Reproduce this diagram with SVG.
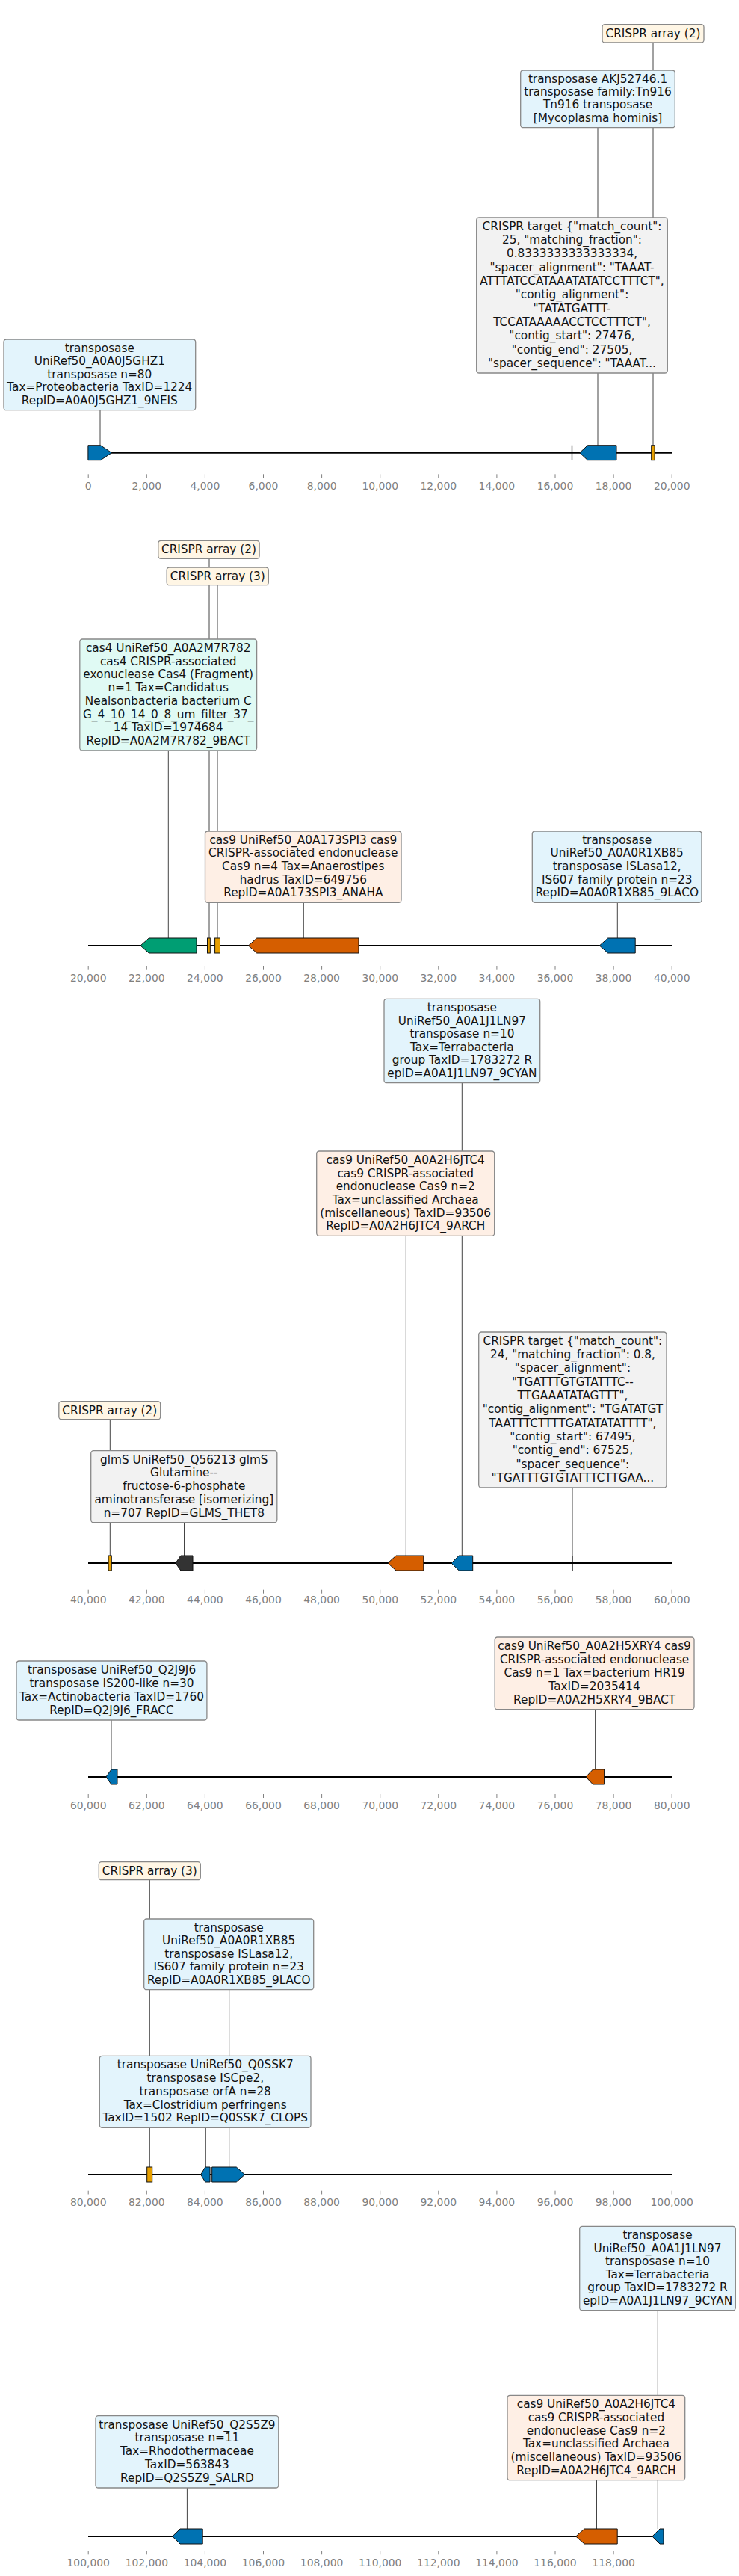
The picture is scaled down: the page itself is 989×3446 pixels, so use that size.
<svg xmlns="http://www.w3.org/2000/svg" width="989" height="3446" viewBox="0 0 989 3446">
<style>
.bg{fill:#fff}
.t{font-family:"DejaVu Sans","Liberation Sans",sans-serif;font-size:15.3px;fill:#111;text-anchor:middle}
.tk{font-family:"DejaVu Sans","Liberation Sans",sans-serif;font-size:13.9px;fill:#808080;text-anchor:middle}
.box{stroke:#888;stroke-width:1.3}
.cr{fill:#FFF6E5}.tr{fill:#E3F4FC}.gy{fill:#F2F2F2}.mi{fill:#E0FAF4}.pe{fill:#FEEFE5}
.con{stroke:#444;stroke-width:1;fill:none}
.axis{stroke:#000;stroke-width:2;fill:none}
.ticks{stroke:#808080;stroke-width:1;fill:none}
.g{stroke:#111;stroke-width:1}
.gb{fill:#0072B2}.go{fill:#D55E00}.gg{fill:#009E73}.gc{fill:#E69F00}.gd{fill:#333333}
.mk{stroke:#000;stroke-width:1.3}
</style>
<rect class="bg" x="0" y="0" width="989" height="3446"/>

<g id="connectors">
<path class="con" d="M134,548.7V595.7M765.5,499V595.7M800,170.7V595.7M874,57V595.7"/>
<path class="con" d="M280,747.3V1255M291,782.7V1255M225.3,1004V1255M406.3,1207.3V1255M826.3,1207.3V1255"/>
<path class="con" d="M618.3,1448.7V2081M543.3,1653.3V2081M766,1990V2081M147.3,1898.7V2081M246.5,2036.7V2081"/>
<path class="con" d="M149,2301V2367M796.6,2286.7V2367"/>
<path class="con" d="M200.3,2514.7V2899M306.7,2661.7V2899M275.3,2846.3V2899"/>
<path class="con" d="M880.3,3090.7V3383M798.5,3317.7V3383M250.4,3328V3383"/>
</g>

<g id="axes">
<path class="axis" d="M118,605.7H899.5"/>
<path class="ticks" d="M118.2,634.3v4.7M196.3,634.3v4.7M274.4,634.3v4.7M352.5,634.3v4.7M430.6,634.3v4.7M508.7,634.3v4.7M586.8,634.3v4.7M664.9,634.3v4.7M743,634.3v4.7M821.1,634.3v4.7M899.2,634.3v4.7"/>
<g>
<text class="tk" x="118.2" y="655">0</text><text class="tk" x="196.3" y="655">2,000</text><text class="tk" x="274.4" y="655">4,000</text><text class="tk" x="352.5" y="655">6,000</text><text class="tk" x="430.6" y="655">8,000</text><text class="tk" x="508.7" y="655">10,000</text><text class="tk" x="586.8" y="655">12,000</text><text class="tk" x="664.9" y="655">14,000</text><text class="tk" x="743" y="655">16,000</text><text class="tk" x="821.1" y="655">18,000</text><text class="tk" x="899.2" y="655">20,000</text>
</g>
<path class="axis" d="M118,1265H899.5"/>
<path class="ticks" d="M118.2,1292v4.7M196.3,1292v4.7M274.4,1292v4.7M352.5,1292v4.7M430.6,1292v4.7M508.7,1292v4.7M586.8,1292v4.7M664.9,1292v4.7M743,1292v4.7M821.1,1292v4.7M899.2,1292v4.7"/>
<g>
<text class="tk" x="118.2" y="1313.3">20,000</text><text class="tk" x="196.3" y="1313.3">22,000</text><text class="tk" x="274.4" y="1313.3">24,000</text><text class="tk" x="352.5" y="1313.3">26,000</text><text class="tk" x="430.6" y="1313.3">28,000</text><text class="tk" x="508.7" y="1313.3">30,000</text><text class="tk" x="586.8" y="1313.3">32,000</text><text class="tk" x="664.9" y="1313.3">34,000</text><text class="tk" x="743" y="1313.3">36,000</text><text class="tk" x="821.1" y="1313.3">38,000</text><text class="tk" x="899.2" y="1313.3">40,000</text>
</g>
<path class="axis" d="M118,2091H899.5"/>
<path class="ticks" d="M118.2,2126.7v5M196.3,2126.7v5M274.4,2126.7v5M352.5,2126.7v5M430.6,2126.7v5M508.7,2126.7v5M586.8,2126.7v5M664.9,2126.7v5M743,2126.7v5M821.1,2126.7v5M899.2,2126.7v5"/>
<g>
<text class="tk" x="118.2" y="2145">40,000</text><text class="tk" x="196.3" y="2145">42,000</text><text class="tk" x="274.4" y="2145">44,000</text><text class="tk" x="352.5" y="2145">46,000</text><text class="tk" x="430.6" y="2145">48,000</text><text class="tk" x="508.7" y="2145">50,000</text><text class="tk" x="586.8" y="2145">52,000</text><text class="tk" x="664.9" y="2145">54,000</text><text class="tk" x="743" y="2145">56,000</text><text class="tk" x="821.1" y="2145">58,000</text><text class="tk" x="899.2" y="2145">60,000</text>
</g>
<path class="axis" d="M118,2377H899.5"/>
<path class="ticks" d="M118.2,2400v5M196.3,2400v5M274.4,2400v5M352.5,2400v5M430.6,2400v5M508.7,2400v5M586.8,2400v5M664.9,2400v5M743,2400v5M821.1,2400v5M899.2,2400v5"/>
<g>
<text class="tk" x="118.2" y="2420">60,000</text><text class="tk" x="196.3" y="2420">62,000</text><text class="tk" x="274.4" y="2420">64,000</text><text class="tk" x="352.5" y="2420">66,000</text><text class="tk" x="430.6" y="2420">68,000</text><text class="tk" x="508.7" y="2420">70,000</text><text class="tk" x="586.8" y="2420">72,000</text><text class="tk" x="664.9" y="2420">74,000</text><text class="tk" x="743" y="2420">76,000</text><text class="tk" x="821.1" y="2420">78,000</text><text class="tk" x="899.2" y="2420">80,000</text>
</g>
<path class="axis" d="M118,2909H899.5"/>
<path class="ticks" d="M118.2,2930.7v4.8M196.3,2930.7v4.8M274.4,2930.7v4.8M352.5,2930.7v4.8M430.6,2930.7v4.8M508.7,2930.7v4.8M586.8,2930.7v4.8M664.9,2930.7v4.8M743,2930.7v4.8M821.1,2930.7v4.8M899.2,2930.7v4.8"/>
<g>
<text class="tk" x="118.2" y="2951">80,000</text><text class="tk" x="196.3" y="2951">82,000</text><text class="tk" x="274.4" y="2951">84,000</text><text class="tk" x="352.5" y="2951">86,000</text><text class="tk" x="430.6" y="2951">88,000</text><text class="tk" x="508.7" y="2951">90,000</text><text class="tk" x="586.8" y="2951">92,000</text><text class="tk" x="664.9" y="2951">94,000</text><text class="tk" x="743" y="2951">96,000</text><text class="tk" x="821.1" y="2951">98,000</text><text class="tk" x="899.2" y="2951">100,000</text>
</g>
<path class="axis" d="M118,3393H888"/>
<path class="ticks" d="M118.2,3412.7v4.6M196.3,3412.7v4.6M274.4,3412.7v4.6M352.5,3412.7v4.6M430.6,3412.7v4.6M508.7,3412.7v4.6M586.8,3412.7v4.6M664.9,3412.7v4.6M743,3412.7v4.6M821.1,3412.7v4.6"/>
<g>
<text class="tk" x="118.2" y="3433.3">100,000</text><text class="tk" x="196.3" y="3433.3">102,000</text><text class="tk" x="274.4" y="3433.3">104,000</text><text class="tk" x="352.5" y="3433.3">106,000</text><text class="tk" x="430.6" y="3433.3">108,000</text><text class="tk" x="508.7" y="3433.3">110,000</text><text class="tk" x="586.8" y="3433.3">112,000</text><text class="tk" x="664.9" y="3433.3">114,000</text><text class="tk" x="743" y="3433.3">116,000</text><text class="tk" x="821.1" y="3433.3">118,000</text>
</g>
</g>

<g id="features">
<path id="f1" class="g gb" d="M117.9,595.7H134.5L149.5,605.7L134.5,615.7H117.9Z"/>
<path id="f2" class="mk" d="M765.5,595.7V615.7"/>
<path id="f3" class="g gb" d="M775.8,605.7L786.5,595.7H825V615.7H786.5Z"/>
<rect id="f4" class="g gc" x="871.7" y="595.7" width="4.4" height="20"/>

<path id="f5" class="g gg" d="M188,1265L199.3,1255H263V1275H199.3Z"/>
<rect id="f6" class="g gc" x="277.5" y="1255" width="3.8" height="20"/>
<rect id="f7" class="g gc" x="287.6" y="1255" width="6.9" height="20"/>
<path id="f8" class="g go" d="M332.4,1265L343.7,1255H480V1275H343.7Z"/>
<path id="f9" class="g gb" d="M802.3,1265L813.6,1255H850.2V1275H813.6Z"/>

<rect id="f10" class="g gc" x="145.1" y="2081" width="4.2" height="20"/>
<path id="f11" class="g gd" d="M235,2091L241.9,2081H258V2101H241.9Z"/>
<path id="f12" class="g go" d="M519,2091L530,2081H566.8V2101H530Z"/>
<path id="f13" class="g gb" d="M604,2091L614.3,2081H632.7V2101H614.3Z"/>
<path id="f14" class="mk" d="M766,2081V2101"/>

<path id="f15" class="g gb" d="M141.9,2377L149,2367H157V2387H149Z"/>
<path id="f16" class="g go" d="M784,2377L793.5,2367H808.6V2387H793.5Z"/>

<rect id="f17" class="g gc" x="196.7" y="2899" width="7" height="20"/>
<path id="f18" class="g gb" d="M268.7,2909L274.7,2899H281V2919H274.7Z"/>
<path id="f19" class="g gb" d="M283.7,2899H316.3L327.7,2909L316.3,2919H283.7Z"/>

<path id="f20" class="g gb" d="M230.8,3393L241,3383H271.2V3403H241Z"/>
<path id="f21" class="g go" d="M770.7,3393L782,3383H826.2V3403H782Z"/>
<path id="f22" class="g gb" d="M872.9,3393L883,3383H888V3403H883Z"/>
</g>

<g id="nA"><rect class="box cr" x="806" y="32.7" width="136" height="24.3" rx="3.5"/>
<text class="t" x="874" y="49.5">CRISPR array (2)</text></g>

<g id="nB"><rect class="box tr" x="696.7" y="94" width="206.6" height="76.7" rx="3.5"/>
<text class="t"><tspan x="800" y="110.8">transposase AKJ52746.1</tspan><tspan x="800" y="128.1">transposase family:Tn916</tspan><tspan x="800" y="145.4">Tn916 transposase</tspan><tspan x="800" y="162.7">[Mycoplasma hominis]</tspan></text></g>

<g id="nC"><rect class="box gy" x="637.7" y="291" width="255.6" height="208" rx="3.5"/>
<text class="t"><tspan x="765.5" y="307.8">CRISPR target {"match_count":</tspan><tspan x="765.5" y="326.1">25, "matching_fraction":</tspan><tspan x="765.5" y="344.4">0.8333333333333334,</tspan><tspan x="765.5" y="362.8">"spacer_alignment": "TAAAT-</tspan><tspan x="765.5" y="381.1">ATTTATCCATAAATATATCCTTTCT",</tspan><tspan x="765.5" y="399.4">"contig_alignment":</tspan><tspan x="765.5" y="417.7">"TATATGATTT-</tspan><tspan x="765.5" y="436">TCCATAAAAACCTCCTTTCT",</tspan><tspan x="765.5" y="454.4">"contig_start": 27476,</tspan><tspan x="765.5" y="472.7">"contig_end": 27505,</tspan><tspan x="765.5" y="491">"spacer_sequence": "TAAAT...</tspan></text></g>

<g id="nD"><rect class="box tr" x="5" y="454" width="256.7" height="94.7" rx="3.5"/>
<text class="t"><tspan x="133.3" y="470.8">transposase</tspan><tspan x="133.3" y="488.3">UniRef50_A0A0J5GHZ1</tspan><tspan x="133.3" y="505.8">transposase n=80</tspan><tspan x="133.3" y="523.2">Tax=Proteobacteria TaxID=1224</tspan><tspan x="133.3" y="540.7">RepID=A0A0J5GHZ1_9NEIS</tspan></text></g>

<g id="nE"><rect class="box cr" x="211.8" y="723.3" width="135.3" height="24" rx="3.5"/>
<text class="t" x="279.5" y="740.1">CRISPR array (2)</text></g>

<g id="nF"><rect class="box cr" x="223.2" y="759" width="136.1" height="23.7" rx="3.5"/>
<text class="t" x="291.3" y="775.8">CRISPR array (3)</text></g>

<g id="nG"><rect class="box mi" x="106.8" y="855" width="236.8" height="149" rx="3.5"/>
<text class="t"><tspan x="225.2" y="871.8">cas4 UniRef50_A0A2M7R782</tspan><tspan x="225.2" y="889.5">cas4 CRISPR-associated</tspan><tspan x="225.2" y="907.3">exonuclease Cas4 (Fragment)</tspan><tspan x="225.2" y="925">n=1 Tax=Candidatus</tspan><tspan x="225.2" y="942.8">Nealsonbacteria bacterium C</tspan><tspan x="225.2" y="960.5">G_4_10_14_0_8_um_filter_37_</tspan><tspan x="225.2" y="978.3">14 TaxID=1974684</tspan><tspan x="225.2" y="996">RepID=A0A2M7R782_9BACT</tspan></text></g>

<g id="nH"><rect class="box pe" x="274.5" y="1112" width="262.5" height="95.3" rx="3.5"/>
<text class="t"><tspan x="405.8" y="1128.8">cas9 UniRef50_A0A173SPI3 cas9</tspan><tspan x="405.8" y="1146.4">CRISPR-associated endonuclease</tspan><tspan x="405.8" y="1164.1">Cas9 n=4 Tax=Anaerostipes</tspan><tspan x="405.8" y="1181.7">hadrus TaxID=649756</tspan><tspan x="405.8" y="1199.3">RepID=A0A173SPI3_ANAHA</tspan></text></g>

<g id="nI"><rect class="box tr" x="712.3" y="1112" width="226.7" height="95.3" rx="3.5"/>
<text class="t"><tspan x="825.7" y="1128.8">transposase</tspan><tspan x="825.7" y="1146.4">UniRef50_A0A0R1XB85</tspan><tspan x="825.7" y="1164.1">transposase ISLasa12,</tspan><tspan x="825.7" y="1181.7">IS607 family protein n=23</tspan><tspan x="825.7" y="1199.3">RepID=A0A0R1XB85_9LACO</tspan></text></g>

<g id="nJ"><rect class="box tr" x="514" y="1336.3" width="208.7" height="112.4" rx="3.5"/>
<text class="t"><tspan x="618.4" y="1353.1">transposase</tspan><tspan x="618.4" y="1370.6">UniRef50_A0A1J1LN97</tspan><tspan x="618.4" y="1388.1">transposase n=10</tspan><tspan x="618.4" y="1405.7">Tax=Terrabacteria</tspan><tspan x="618.4" y="1423.2">group TaxID=1783272 R</tspan><tspan x="618.4" y="1440.7">epID=A0A1J1LN97_9CYAN</tspan></text></g>

<g id="nK"><rect class="box pe" x="423.7" y="1540" width="238" height="113.3" rx="3.5"/>
<text class="t"><tspan x="542.7" y="1556.8">cas9 UniRef50_A0A2H6JTC4</tspan><tspan x="542.7" y="1574.5">cas9 CRISPR-associated</tspan><tspan x="542.7" y="1592.2">endonuclease Cas9 n=2</tspan><tspan x="542.7" y="1609.9">Tax=unclassified Archaea</tspan><tspan x="542.7" y="1627.6">(miscellaneous) TaxID=93506</tspan><tspan x="542.7" y="1645.3">RepID=A0A2H6JTC4_9ARCH</tspan></text></g>

<g id="nL"><rect class="box gy" x="640.7" y="1782" width="251.3" height="208" rx="3.5"/>
<text class="t"><tspan x="766.4" y="1798.8">CRISPR target {"match_count":</tspan><tspan x="766.4" y="1817.1">24, "matching_fraction": 0.8,</tspan><tspan x="766.4" y="1835.4">"spacer_alignment":</tspan><tspan x="766.4" y="1853.8">"TGATTTGTGTATTTC--</tspan><tspan x="766.4" y="1872.1">TTGAAATATAGTTT",</tspan><tspan x="766.4" y="1890.4">"contig_alignment": "TGATATGT</tspan><tspan x="766.4" y="1908.7">TAATTTCTTTTGATATATATTTT",</tspan><tspan x="766.4" y="1927">"contig_start": 67495,</tspan><tspan x="766.4" y="1945.4">"contig_end": 67525,</tspan><tspan x="766.4" y="1963.7">"spacer_sequence":</tspan><tspan x="766.4" y="1982">"TGATTTGTGTATTTCTTGAA...</tspan></text></g>

<g id="nM"><rect class="box cr" x="78.8" y="1874.7" width="135.9" height="24" rx="3.5"/>
<text class="t" x="146.8" y="1891.5">CRISPR array (2)</text></g>

<g id="nN"><rect class="box gy" x="121.7" y="1940.7" width="249.1" height="96" rx="3.5"/>
<text class="t"><tspan x="246.3" y="1957.5">glmS UniRef50_Q56213 glmS</tspan><tspan x="246.3" y="1975.3">Glutamine--</tspan><tspan x="246.3" y="1993.1">fructose-6-phosphate</tspan><tspan x="246.3" y="2010.9">aminotransferase [isomerizing]</tspan><tspan x="246.3" y="2028.7">n=707 RepID=GLMS_THET8</tspan></text></g>

<g id="nO"><rect class="box tr" x="22" y="2222" width="254.9" height="79" rx="3.5"/>
<text class="t"><tspan x="149.5" y="2238.8">transposase UniRef50_Q2J9J6</tspan><tspan x="149.5" y="2256.9">transposase IS200-like n=30</tspan><tspan x="149.5" y="2274.9">Tax=Actinobacteria TaxID=1760</tspan><tspan x="149.5" y="2293">RepID=Q2J9J6_FRACC</tspan></text></g>

<g id="nP"><rect class="box pe" x="662.2" y="2190" width="266.8" height="96.7" rx="3.5"/>
<text class="t"><tspan x="795.6" y="2206.8">cas9 UniRef50_A0A2H5XRY4 cas9</tspan><tspan x="795.6" y="2224.8">CRISPR-associated endonuclease</tspan><tspan x="795.6" y="2242.8">Cas9 n=1 Tax=bacterium HR19</tspan><tspan x="795.6" y="2260.7">TaxID=2035414</tspan><tspan x="795.6" y="2278.7">RepID=A0A2H5XRY4_9BACT</tspan></text></g>

<g id="nQ"><rect class="box cr" x="132.3" y="2490.7" width="136" height="24" rx="3.5"/>
<text class="t" x="200.3" y="2507.5">CRISPR array (3)</text></g>

<g id="nR"><rect class="box tr" x="192.7" y="2567" width="227" height="94.7" rx="3.5"/>
<text class="t"><tspan x="306.2" y="2583.8">transposase</tspan><tspan x="306.2" y="2601.3">UniRef50_A0A0R1XB85</tspan><tspan x="306.2" y="2618.8">transposase ISLasa12,</tspan><tspan x="306.2" y="2636.2">IS607 family protein n=23</tspan><tspan x="306.2" y="2653.7">RepID=A0A0R1XB85_9LACO</tspan></text></g>

<g id="nS"><rect class="box tr" x="133.3" y="2750.3" width="282.7" height="96" rx="3.5"/>
<text class="t"><tspan x="274.7" y="2767.1">transposase UniRef50_Q0SSK7</tspan><tspan x="274.7" y="2784.9">transposase ISCpe2,</tspan><tspan x="274.7" y="2802.7">transposase orfA n=28</tspan><tspan x="274.7" y="2820.5">Tax=Clostridium perfringens</tspan><tspan x="274.7" y="2838.3">TaxID=1502 RepID=Q0SSK7_CLOPS</tspan></text></g>

<g id="nT"><rect class="box tr" x="775.7" y="2978.3" width="208.6" height="112.4" rx="3.5"/>
<text class="t"><tspan x="880" y="2995.1">transposase</tspan><tspan x="880" y="3012.6">UniRef50_A0A1J1LN97</tspan><tspan x="880" y="3030.1">transposase n=10</tspan><tspan x="880" y="3047.7">Tax=Terrabacteria</tspan><tspan x="880" y="3065.2">group TaxID=1783272 R</tspan><tspan x="880" y="3082.7">epID=A0A1J1LN97_9CYAN</tspan></text></g>

<g id="nU"><rect class="box pe" x="679" y="3204.3" width="237.7" height="113.4" rx="3.5"/>
<text class="t"><tspan x="797.9" y="3221.1">cas9 UniRef50_A0A2H6JTC4</tspan><tspan x="797.9" y="3238.8">cas9 CRISPR-associated</tspan><tspan x="797.9" y="3256.5">endonuclease Cas9 n=2</tspan><tspan x="797.9" y="3274.3">Tax=unclassified Archaea</tspan><tspan x="797.9" y="3292">(miscellaneous) TaxID=93506</tspan><tspan x="797.9" y="3309.7">RepID=A0A2H6JTC4_9ARCH</tspan></text></g>

<g id="nV"><rect class="box tr" x="128" y="3231.7" width="244.8" height="96.3" rx="3.5"/>
<text class="t"><tspan x="250.4" y="3248.5">transposase UniRef50_Q2S5Z9</tspan><tspan x="250.4" y="3266.4">transposase n=11</tspan><tspan x="250.4" y="3284.3">Tax=Rhodothermaceae</tspan><tspan x="250.4" y="3302.1">TaxID=563843</tspan><tspan x="250.4" y="3320">RepID=Q2S5Z9_SALRD</tspan></text></g>
</svg>
